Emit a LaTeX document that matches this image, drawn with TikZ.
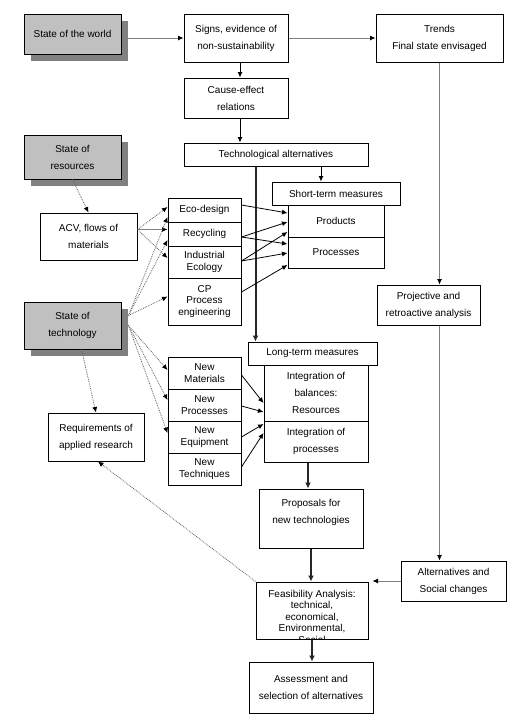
\documentclass[tikz,border=0pt]{standalone}
\usepackage{fontspec}
\setmainfont{Liberation Sans}
\usetikzlibrary{arrows.meta,calc}
\definecolor{shadefill}{HTML}{C0C0C0}
\definecolor{shadowcol}{HTML}{808080}
\definecolor{lgray}{HTML}{808080}
\definecolor{dgray}{HTML}{606060}
\tikzset{
 box/.style={draw=black, line width=1pt, fill=white, inner sep=0pt, align=center, font=\fontsize{10}{17}\selectfont},
 tight/.style={font=\fontsize{10}{11.5}\selectfont},
 shaded/.style={fill=shadefill},
 tiphead/.style={-{Latex[length=5.5pt,width=5pt,color=black]}},
 gline/.style={lgray, line width=0.8pt, tiphead},
 dline/.style={dgray, line width=0.8pt, densely dotted, tiphead},
 bline/.style={black, line width=0.8pt, tiphead},
 heavy/.style={black!85, line width=2pt, -{Latex[length=6pt,width=6pt]}},
}
\newcommand{\bx}[6][]{\node[box,#1,minimum width={(#4)-(#2)},minimum height={(#5)-(#3)}] (#6) at ({((#2)+(#4))/2},{((#3)+(#5))/2})}
\begin{document}
\begin{tikzpicture}[x=1pt,y=-1pt]
\useasboundingbox (0,0) rectangle (520,724);
\fill[white] (0,0) rectangle (520,724);
% shadows
\fill[shadowcol] (31,21) rectangle (128,61);
\fill[shadowcol] (31,142) rectangle (128,186);
\fill[shadowcol] (31,309) rectangle (128,356);
% boxes
\bx[shaded]{24}{14}{121}{54}{world}{State of the world};
\bx{184}{14}{288}{62}{signs}{Signs, evidence of\\non-sustainability};
\bx{376}{14}{503}{62}{trends}{Trends\\Final state envisaged};
\bx{184}{78}{288}{118}{cause}{Cause-effect\\relations};
\bx{184}{143}{368}{166}{techalt}{Technological alternatives};
\bx[shaded]{24}{135}{121}{179}{resources}{State of\\resources};
\bx{40}{213}{137}{260}{acv}{ACV, flows of\\materials};
\bx[tight]{168}{198}{241}{222}{eco}{Eco-design};
\bx[tight]{168}{222}{241}{246}{recyc}{Recycling};
\bx[tight]{168}{246}{241}{278}{indeco}{Industrial\\Ecology};
\bx[tight]{168}{278}{241}{325}{cp}{CP\\Process\\engineering};
\bx[shaded]{24}{302}{121}{349}{tech}{State of\\technology};
\bx{272}{182}{400}{205}{short}{Short-term measures};
\bx{288}{205}{384}{237}{products}{Products};
\bx{288}{237}{384}{268}{processes}{Processes};
\bx{377}{285}{480}{325}{proj}{Projective and\\retroactive analysis};
\bx{248}{342}{377}{365}{long}{Long-term measures};
\bx{264}{365}{368}{421}{intbal}{Integration of\\balances:\\Resources};
\bx{264}{421}{368}{462}{intproc}{Integration of\\processes};
\bx{48}{413}{144}{461}{req}{Requirements of\\applied research};
\bx[tight]{168}{357}{241}{389}{newmat}{New\\Materials};
\bx[tight]{168}{389}{241}{421}{newproc}{New\\Processes};
\bx[tight]{168}{421}{241}{453}{neweq}{New\\Equipment};
\bx[tight]{168}{453}{241}{485}{newtech}{New\\Techniques};
\bx{259}{489}{363}{548}{prop}{};
\node[box, draw=none, fill=none] (proptext) at ([yshift=6pt]prop.center) {Proposals for\\new technologies};
\bx{256}{582}{368}{639}{feas}{};
\begin{scope}
\clip (feas.north west) rectangle (feas.south east);
\node[box, tight, draw=none, fill=none, anchor=north] (feastext) at ([yshift=-8pt]feas.north) {Feasibility Analysis:\\technical,\\economical,\\Environmental,\\Social};
\end{scope}
\bx{249}{662}{373}{713}{assess}{Assessment and\\selection of alternatives};
\bx{401}{561}{506}{601}{alt}{Alternatives and\\Social changes};
% main flow
\draw[gline] (world.east |- signs.west) -- (signs.west);
\draw[gline] (signs.east) -- (trends.west);
\draw[bline] ([xshift=4pt]signs.south) -- ([xshift=4pt]cause.north);
\draw[bline] ([xshift=4pt]cause.south) -- ([xshift=4pt]cause.south |- techalt.north);
\draw[bline] ([xshift=-15pt]short.north |- techalt.south) -- ([xshift=-15pt]short.north);
\draw[heavy] ([xshift=8pt]long.north west |- techalt.south) -- ([xshift=8pt]long.north west);
\draw[gline] (trends.south) -- (trends.south |- proj.north);
\draw[gline] (trends.south |- proj.south) -- (trends.south |- alt.north);
\draw[gline] (alt.west) -- ([xshift=4pt]feas.north east |- alt.west);
\draw[heavy] ([xshift=-3pt]prop.north |- intproc.south) -- ([xshift=-3pt]prop.north);
\draw[heavy] (prop.south) -- (prop.south |- feas.north);
\draw[heavy] (feas.south) -- (feas.south |- assess.north);
\draw[dline] (feas.north west) -- ([xshift=2pt]req.south);
\draw[dline] (resources.south) -- (acv.north);
\draw[dline] ([xshift=9pt]tech.south) -- (req.north);
% ACV
\coordinate (acvsrc) at ([yshift=7pt]acv.east);
\draw[dline] (acvsrc) -- ([yshift=3pt]eco.west);
\draw[gline] (acvsrc) -- (acvsrc -| recyc.west);
\draw[dline] (acvsrc) -- ([yshift=4pt]indeco.west);
% state of technology
\coordinate (tsrcA) at ([shift={(7pt,10pt)}]tech.east);
\draw[dline] (tsrcA) -- ([yshift=-7pt]eco.west);
\draw[dline] (tsrcA) -- ([yshift=-6pt]recyc.west);
\draw[dline] (tsrcA) -- ([yshift=5pt]cp.west);
\coordinate (tsrcB) at ([xshift=7pt]tech.east);
\draw[dline] (tsrcB) -- ([yshift=3pt]newmat.west);
\draw[dline] (tsrcB) -- ([yshift=5pt]newproc.west);
\draw[dline] (tsrcB) -- ([yshift=4pt]neweq.west);
% short-term links
\draw[bline] ([yshift=5pt]eco.east) -- ([yshift=8pt]products.west);
\draw[bline] ([yshift=-3pt]recyc.east) -- ([yshift=-1pt]products.west);
\draw[bline] ([yshift=-3pt]recyc.east) -- ([yshift=8.5pt]processes.west);
\draw[bline] ([yshift=1pt]indeco.east) -- ([yshift=-11pt]products.west);
\draw[bline] ([yshift=1pt]indeco.east) -- ([yshift=-0.5pt]processes.west);
\draw[bline] ([yshift=9.5pt]cp.east) -- ([yshift=-12.5pt]processes.west);
% long-term links
\draw[bline] ([yshift=-2pt]newmat.east) -- ([yshift=-10pt]intbal.west);
\draw[bline] ([yshift=-1pt]newproc.east) -- ([yshift=-19pt]intbal.west);
\draw[bline] (neweq.east) -- ([yshift=17.5pt]intproc.west);
\draw[bline] ([yshift=2pt]newtech.east) -- ([yshift=8.5pt]intproc.west);
\end{tikzpicture}
\end{document}
